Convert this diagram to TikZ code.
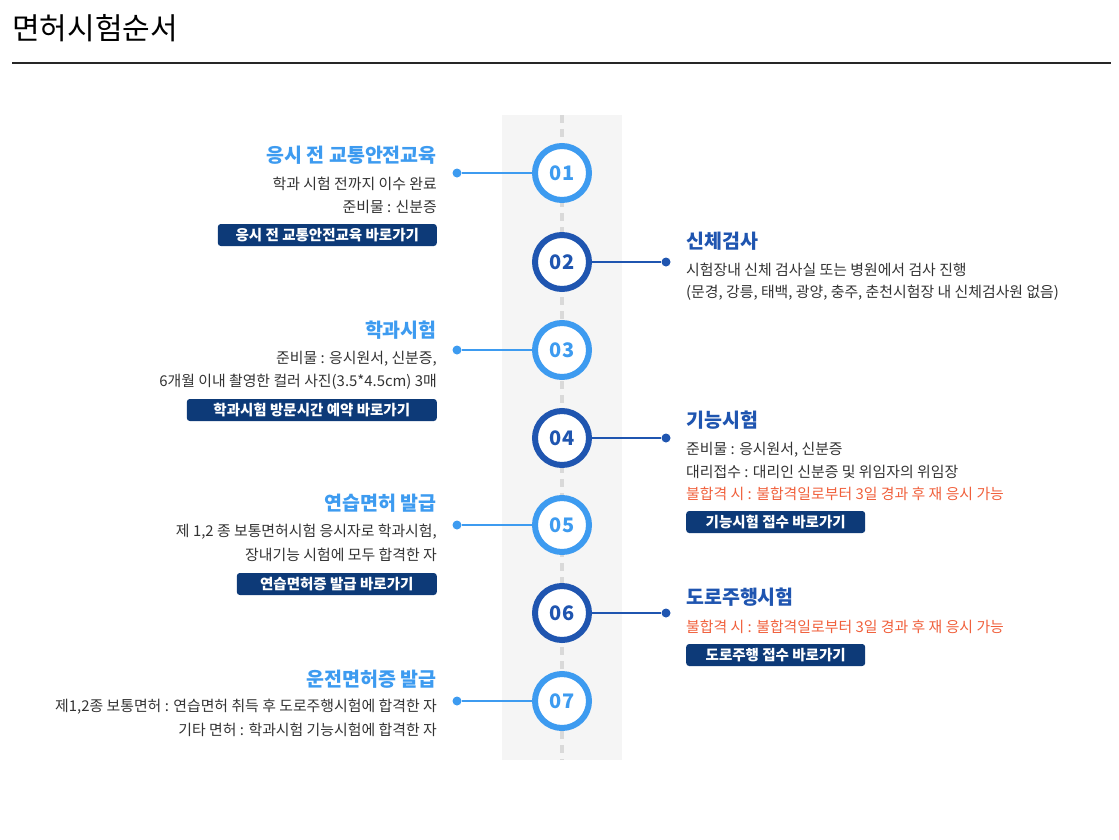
\documentclass[tikz,border=0pt]{standalone}
\usepackage{fontspec}
\setmainfont{Noto Sans CJK KR}
\definecolor{lightblue}{HTML}{3D9BF0}
\definecolor{darkblue}{HTML}{1F55B0}
\definecolor{navy}{HTML}{0D3A78}
\definecolor{warn}{HTML}{F0603C}
\definecolor{bodytext}{HTML}{333333}
\tikzset{
  ring/.style={circle, draw=#1, line width=6pt, fill=white, minimum size=54pt,
    text=#1, font=\fontsize{20}{20}\selectfont\bfseries},
  dot/.style={circle, fill=#1, inner sep=0pt, minimum size=9pt},
  ttl/.style={font=\fontsize{19.5}{20}\selectfont\bfseries, text=#1, inner sep=0pt},
  txt/.style={font=\fontsize{14.9}{15}\selectfont, text=bodytext, inner sep=0pt},
  btn/.style={fill=navy, rounded corners=3pt, text=white, inner sep=0pt,
    minimum height=22pt, font=\fontsize{14.5}{15}\selectfont\bfseries},
}
\begin{document}
\begin{tikzpicture}[x=1pt,y=-1pt]
\useasboundingbox (0,0) rectangle (1119,839);
% header
\node[anchor=west, inner sep=0pt, font=\fontsize{30}{30}\selectfont] (head) at (12,28) {면허시험순서};
\draw[line width=1.2pt, black!85] (12,63) -- (1111,63);
% band
\fill[black!4] (502,115) rectangle (622,760);
\draw[black!15, line width=4pt, dash pattern=on 8pt off 6pt] (562,115) -- (562,760);
% steps
\foreach \n/\y/\c in {01/173/lightblue, 02/262/darkblue, 03/350/lightblue, 04/438/darkblue,
                      05/525/lightblue, 06/613/darkblue, 07/701/lightblue}
  \node[ring=\c] (s\n) at (562,\y) {\n};
\foreach \n/\y in {01/173, 03/350, 05/525, 07/701}{
  \node[dot=lightblue] (d\n) at (457,\y) {};
  \draw[lightblue, line width=1.5pt] (d\n) -- (s\n);
}
\foreach \n/\y in {02/262, 04/438, 06/613}{
  \node[dot=darkblue] (d\n) at (666,\y) {};
  \draw[darkblue, line width=1.5pt] (s\n) -- (d\n);
}
% left side
\node[ttl=lightblue, anchor=east] (t1) at (437,155) {응시 전 교통안전교육};
\node[txt, anchor=east] (a1) at (437,184) {학과 시험 전까지 이수 완료};
\node[txt, anchor=east] (b1) at (437,207) {준비물 : 신분증};
\node[btn, minimum width=219pt, anchor=east] (k1) at (437,235) {응시 전 교통안전교육 바로가기};
\node[ttl=lightblue, anchor=east] (t3) at (437,330) {학과시험};
\node[txt, anchor=east] (a3) at (437,359) {준비물 : 응시원서, 신분증,};
\node[txt, anchor=east] (b3) at (437,382) {6개월 이내 촬영한 컬러 사진(3.5*4.5cm) 3매};
\node[btn, minimum width=250pt, anchor=east] (k3) at (437,410) {학과시험 방문시간 예약 바로가기};
\node[ttl=lightblue, anchor=east] (t5) at (437,503) {연습면허 발급};
\node[txt, anchor=east] (a5) at (437,532) {제 1,2 종 보통면허시험 응시자로 학과시험,};
\node[txt, anchor=east] (b5) at (437,555) {장내기능 시험에 모두 합격한 자};
\node[btn, minimum width=200pt, anchor=east] (k5) at (437,584) {연습면허증 발급 바로가기};
\node[ttl=lightblue, anchor=east] (t7) at (437,679) {운전면허증 발급};
\node[txt, anchor=east] (a7) at (437,707) {제1,2종 보통면허 : 연습면허 취득 후 도로주행시험에 합격한 자};
\node[txt, anchor=east] (b7) at (437,730) {기타 면허 : 학과시험 기능시험에 합격한 자};
% right side
\node[ttl=darkblue, anchor=west] (t2) at (686,241) {신체검사};
\node[txt, anchor=west] (a2) at (686,270) {시험장내 신체 검사실 또는 병원에서 검사 진행};
\node[txt, anchor=west] (b2) at (686,293) {(문경, 강릉, 태백, 광양, 충주, 춘천시험장 내 신체검사원 없음)};
\node[ttl=darkblue, anchor=west] (t4) at (686,420) {기능시험};
\node[txt, anchor=west] (a4) at (686,450) {준비물 : 응시원서, 신분증};
\node[txt, anchor=west] (b4) at (686,472) {대리접수 : 대리인 신분증 및 위임자의 위임장};
\node[txt, text=warn, anchor=west] (c4) at (686,494) {불합격 시 : 불합격일로부터 3일 경과 후 재 응시 가능};
\node[btn, minimum width=179pt, anchor=west] (k4) at (686,522) {기능시험 접수 바로가기};
\node[ttl=darkblue, anchor=west] (t6) at (686,597) {도로주행시험};
\node[txt, text=warn, anchor=west] (a6) at (686,627) {불합격 시 : 불합격일로부터 3일 경과 후 재 응시 가능};
\node[btn, minimum width=179pt, anchor=west] (k6) at (686,655) {도로주행 접수 바로가기};
\end{tikzpicture}
\end{document}
